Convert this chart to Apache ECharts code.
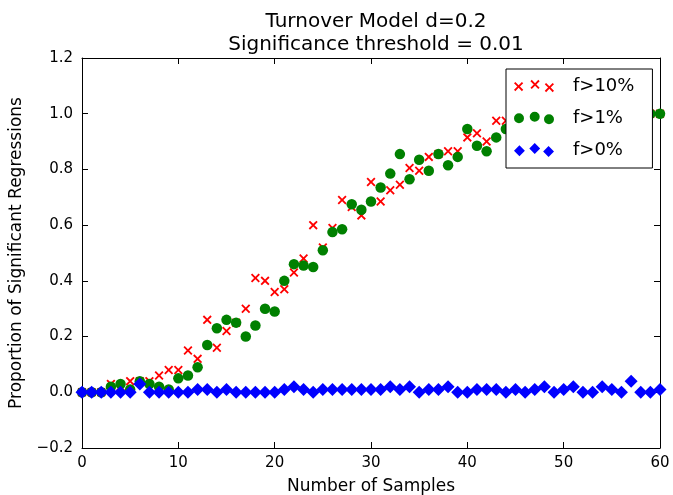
<!DOCTYPE html>
<html>
<head>
<meta charset="utf-8">
<script src="https://cdn.jsdelivr.net/npm/echarts@6/dist/echarts.min.js"></script>
<style>
html,body{margin:0;padding:0;background:#fff;}
#chart{width:673px;height:495px;}
</style>
</head>
<body>
<div id="chart"></div>
<script>
// ---- data ----
var samples = [0,1,2,3,4,5,6,7,8,9,10,11,12,13,14,15,16,17,18,19,20,21,22,23,24,25,26,27,28,29,30,
  31,32,33,34,35,36,37,38,39,40,41,42,43,44,45,46,47,48,49,50,51,52,53,54,55,56,57,58,59,60];
var f10 = [0,0,0,0.03,0.02,0.04,0.04,0.04,0.06,0.08,0.08,0.15,0.12,0.26,0.16,0.22,0.25,0.30,0.41,0.40,0.36,
  0.37,0.43,0.48,0.60,0.52,0.59,0.69,0.665,0.635,0.755,0.685,0.725,0.745,0.805,0.795,0.845,0.855,0.865,0.865,0.915,
  0.93,0.90,0.975,0.975,0.96,0.98,0.97,0.99,0.98,0.99,0.99,1.0,0.99,1.0,1.0,1.0,1.0,1.0,1.0,1.0];
var f1 = [0,0,0,0.02,0.03,0.01,0.04,0.03,0.02,0.01,0.05,0.06,0.09,0.17,0.23,0.26,0.25,0.20,0.24,0.30,0.29,
  0.40,0.46,0.455,0.45,0.51,0.575,0.585,0.675,0.655,0.685,0.735,0.785,0.855,0.765,0.835,0.795,0.855,0.815,0.845,0.945,
  0.885,0.865,0.915,0.945,0.95,0.96,0.97,0.97,0.98,0.99,0.98,0.99,1.0,0.99,1.0,1.0,1.0,1.0,1.0,1.0];
var f0 = [0,0,0,0,0,0,0.03,0,0,0,0,0,0.01,0.01,0,0.01,0,0,0,0,0,
  0.01,0.02,0.01,0,0.01,0.01,0.01,0.01,0.01,0.01,0.01,0.02,0.01,0.02,0,0.01,0.01,0.02,0,0,
  0.01,0.01,0.01,0,0.01,0,0.01,0.02,0,0.01,0.02,0,0,0.02,0.01,0,0.04,0,0,0.01];
var seriesNames = ['f>10%','f>1%','f>0%'];
var titleText = 'Turnover Model d=0.2\nSignificance threshold = 0.01';
var xName = 'Number of Samples';
var yName = 'Proportion of Significant Regressions';

function pairs(ys){ return samples.map(function(x,i){ return [x, ys[i]]; }); }

// ---- marker shapes ----
function crossAt(cx, cy, h, a){
  var p = [[-h,-h+a],[-h+a,-h],[0,-a],[h-a,-h],[h,-h+a],[a,0],[h,h-a],[h-a,h],[0,a],[-h+a,h],[-h,h-a],[-a,0]];
  return 'M' + p.map(function(q){ return (cx+q[0]).toFixed(2)+','+(cy+q[1]).toFixed(2); }).join('L') + 'Z';
}
function circleAt(cx, cy, r){
  return 'M'+(cx-r)+','+cy+'A'+r+','+r+',0,1,0,'+(cx+r)+','+cy+'A'+r+','+r+',0,1,0,'+(cx-r)+','+cy+'Z';
}
function diamondAt(cx, cy, h){
  return 'M'+cx+','+(cy-h)+'L'+(cx+h)+','+cy+'L'+cx+','+(cy+h)+'L'+(cx-h)+','+cy+'Z';
}
var crossSymbol = 'path://' + crossAt(0,0,4.5,1.3);
var legCross = 'path://' + crossAt(4.5,7,4.5,1.3) + crossAt(20.5,5,4.5,1.3) + crossAt(34.5,8,4.5,1.3);
var legCircle = 'path://' + circleAt(5,7.5,5) + circleAt(20.7,6,5) + circleAt(35,8.5,5);
var legDiamond = 'path://' + diamondAt(5.5,7.8,5.5) + diamondAt(21,5.5,5.5) + diamondAt(35,8.5,5.5);

var FONT = 'DejaVu Sans';
function fmtY(v){ if (Math.abs(v) < 1e-9) v = 0; return v.toFixed(1).replace('-', '\u2212'); }

var chart = echarts.init(document.getElementById('chart'), null, {renderer:'canvas'});
var axisCommon = {
  axisLine:{show:true, onZero:false, lineStyle:{color:'#000', width:1}},
  axisTick:{show:true, inside:true, length:6, lineStyle:{color:'#000', width:1}},
  splitLine:{show:false}
};
chart.setOption({
  animation:false,
  backgroundColor:'#fff',
  textStyle:{fontFamily:FONT},
  title:{
    text:titleText, left:371, top:5, textAlign:'center',
    textStyle:{fontFamily:FONT, fontSize:20, fontWeight:'normal', color:'#000', lineHeight:23}
  },
  grid:{left:82, right:13, top:58, bottom:47, containLabel:false, outerBoundsMode:'none'},
  legend:{
    orient:'vertical', left:506, top:69, z:20,
    backgroundColor:'#fff', borderColor:'#000', borderWidth:1, borderRadius:0,
    padding:[8,18,9,8], itemGap:14, itemWidth:40, itemHeight:14,
    selectedMode:false,
    textStyle:{fontFamily:FONT, fontSize:18, color:'#000', padding:[0,0,0,14]},
    data:[
      {name:seriesNames[0], icon:legCross},
      {name:seriesNames[1], icon:legCircle},
      {name:seriesNames[2], icon:legDiamond}
    ]
  },
  xAxis:[
    Object.assign({
      type:'value', min:0, max:60, interval:10, position:'bottom',
      axisLabel:{color:'#000', fontSize:15, fontFamily:FONT, margin:8},
      name:xName, nameLocation:'middle', nameGap:30,
      nameTextStyle:{color:'#000', fontSize:17, fontFamily:FONT}
    }, axisCommon),
    Object.assign({
      type:'value', min:0, max:60, interval:10, position:'top',
      axisLabel:{show:false}
    }, axisCommon)
  ],
  yAxis:[
    Object.assign({
      type:'value', min:-0.2, max:1.2, interval:0.2, position:'left',
      axisLabel:{color:'#000', fontSize:15, fontFamily:FONT, margin:9, formatter:fmtY},
      name:yName, nameLocation:'middle', nameGap:57,
      nameTextStyle:{color:'#000', fontSize:17, fontFamily:FONT}
    }, axisCommon),
    Object.assign({
      type:'value', min:-0.2, max:1.2, interval:0.2, position:'right',
      axisLabel:{show:false}
    }, axisCommon)
  ],
  series:[
    {name:seriesNames[0], type:'scatter', data:pairs(f10), symbol:crossSymbol, symbolSize:9,
     itemStyle:{color:'#ff0000', opacity:1}},
    {name:seriesNames[1], type:'scatter', data:pairs(f1), symbol:'circle', symbolSize:10.5,
     itemStyle:{color:'#008000', opacity:1}},
    {name:seriesNames[2], type:'scatter', data:pairs(f0), symbol:'diamond', symbolSize:13,
     itemStyle:{color:'#0000ff', opacity:1}}
  ]
});
</script>
</body>
</html>
